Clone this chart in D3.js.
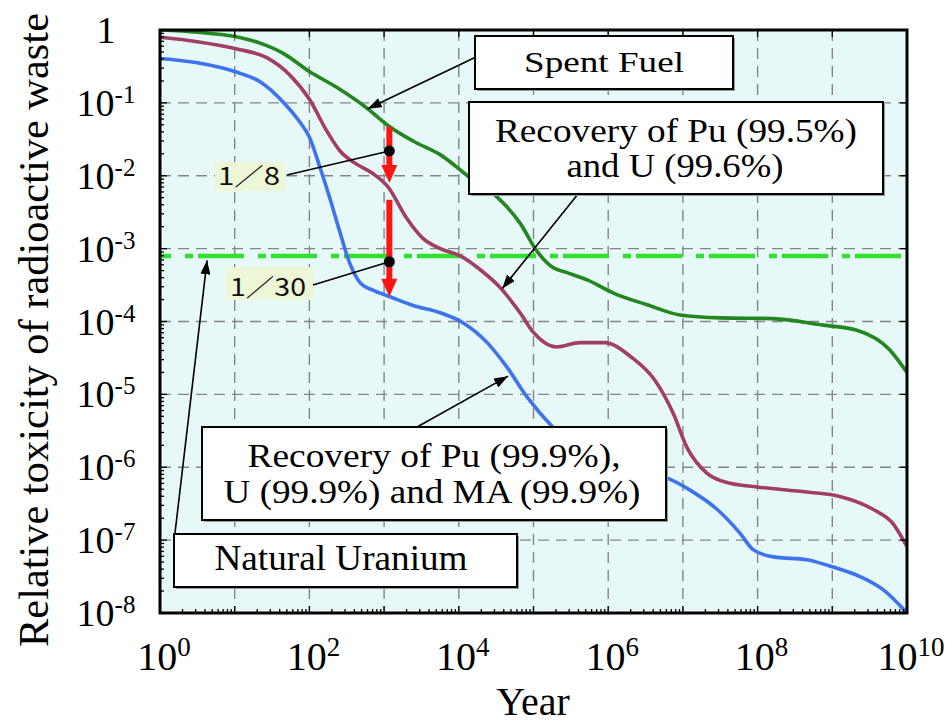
<!DOCTYPE html>
<html><head><meta charset="utf-8">
<script src="https://cdn.jsdelivr.net/npm/d3@7"></script>
<style>body{margin:0;background:#fff} svg{display:block}
.sf{font-family:"Liberation Serif","Times New Roman",Times,serif}
.gt{font-family:"Noto Sans CJK JP","Noto Sans",sans-serif}</style>
</head><body><svg id="c" width="952" height="724"></svg>
<script>
// ---- data (exponents: [log10(year), log10(relative toxicity)]) ----
const xTickExps = [0, 2, 4, 6, 8, 10];
const yTickExps = [0, -1, -2, -3, -4, -5, -6, -7, -8];
const spentFuel = [[0,0],[0.5,-0.03],[1,-0.09],[1.34,-0.18],[1.65,-0.32],[2,-0.57],[2.37,-0.79],[2.78,-1.08],[3.05,-1.31],[3.4,-1.53],[3.75,-1.71],[4.19,-2.06],[4.51,-2.29],[4.82,-2.65],[5.05,-3.04],[5.26,-3.26],[5.45,-3.33],[5.72,-3.43],[6.07,-3.61],[6.52,-3.77],[6.96,-3.91],[7.5,-3.95],[8.2,-3.96],[8.88,-4.05],[9.33,-4.12],[9.77,-4.39],[10,-4.7]];
const recoveryPuU = [[0,-0.1],[0.5,-0.16],[1.03,-0.26],[1.43,-0.38],[1.74,-0.62],[2,-0.95],[2.23,-1.38],[2.41,-1.66],[2.6,-1.82],[2.85,-1.97],[3.05,-2.15],[3.3,-2.58],[3.52,-2.86],[3.75,-3.0],[4.02,-3.1],[4.3,-3.3],[4.55,-3.53],[4.82,-3.88],[5.0,-4.15],[5.31,-4.35],[5.62,-4.29],[5.95,-4.29],[6.31,-4.49],[6.62,-4.8],[6.87,-5.26],[7.05,-5.72],[7.32,-6.08],[7.59,-6.21],[7.99,-6.27],[8.66,-6.34],[9.1,-6.4],[9.55,-6.58],[9.81,-6.77],[10,-7.09]];
const recoveryPuUMA = [[0,-0.39],[0.5,-0.45],[1.03,-0.58],[1.34,-0.71],[1.65,-0.99],[1.87,-1.26],[2,-1.47],[2.14,-1.88],[2.28,-2.33],[2.41,-2.78],[2.54,-3.2],[2.68,-3.47],[2.85,-3.57],[3.08,-3.66],[3.39,-3.78],[3.75,-3.88],[4.06,-4.02],[4.38,-4.29],[4.64,-4.62],[4.91,-5.03],[5.26,-5.45],[5.6,-5.75],[6,-5.95],[6.4,-6.05],[6.79,-6.15],[7.09,-6.31],[7.46,-6.58],[7.76,-6.9],[7.94,-7.13],[8.21,-7.23],[8.66,-7.27],[9.01,-7.37],[9.37,-7.5],[9.68,-7.68],[10,-8]];
const naturalUraniumExp = -3.1;
const reductionYearExp = 3.07;
const reductionSteps = [[-1.33,-2.1],[-2.33,-3.66]];
const ratioDotExps = [-1.66,-3.18];
const ratioLabels = ["1／8","1／30"];
const boxLabels = {
  spent: ["Spent Fuel"],
  puu: ["Recovery of Pu (99.5%)","and U (99.6%)"],
  puuma: ["Recovery of Pu (99.9%),","U (99.9%) and MA (99.9%)"],
  nat: ["Natural Uranium"]
};

// ---- scales ----
const L = 160, R = 907, T = 30, B = 613;
const x = d3.scaleLog().domain([1, 1e10]).range([L, R]);
const y = d3.scaleLog().domain([1e-8, 1]).range([B, T]);
const X = e => x(Math.pow(10, e)), Y = e => y(Math.pow(10, e));

const svg = d3.select("#c");
const defs = svg.append("defs");
defs.append("clipPath").attr("id","clip").append("rect").attr("x",L).attr("y",T).attr("width",R-L).attr("height",B-T);
defs.append("marker").attr("id","ah").attr("viewBox","0 0 14 10").attr("refX",14).attr("refY",5)
  .attr("markerWidth",14).attr("markerHeight",10).attr("markerUnits","userSpaceOnUse").attr("orient","auto")
  .append("path").attr("d","M0,0L14,5L0,10z").attr("fill","#000");

// background
svg.append("rect").attr("x",L).attr("y",T).attr("width",R-L).attr("height",B-T).attr("fill","#e7f8f9");

// grid
const g = svg.append("g");
for (let e = 1; e <= 9; e++) g.append("line").attr("x1",X(e)).attr("x2",X(e)).attr("y1",T).attr("y2",B)
  .attr("stroke","#858585").attr("stroke-width",1.4).attr("stroke-dasharray","11,7");
for (let e = -1; e >= -7; e--) g.append("line").attr("y1",Y(e)).attr("y2",Y(e)).attr("x1",L).attr("x2",R)
  .attr("stroke","#858585").attr("stroke-width",1.4).attr("stroke-dasharray","11,7");

// natural uranium level
svg.append("line").attr("x1",L).attr("x2",R).attr("y1",Y(naturalUraniumExp)).attr("y2",Y(naturalUraniumExp))
  .attr("stroke","#2fe02f").attr("stroke-width",4.5).attr("stroke-dasharray","8,5,46,14").attr("stroke-dashoffset",48);

// curves
const line = d3.line().x(d => X(d[0])).y(d => Y(d[1])).curve(d3.curveMonotoneX);
const cg = svg.append("g").attr("clip-path","url(#clip)");
[[spentFuel,"#23861f"],[recoveryPuU,"#a23d68"],[recoveryPuUMA,"#3d73ec"]].forEach(([d,c]) =>
  cg.append("path").datum(d).attr("d",line).attr("fill","none").attr("stroke",c).attr("stroke-width",3.6).attr("stroke-linejoin","round"));

// red reduction arrows
const rx = X(reductionYearExp);
reductionSteps.forEach(([a,b]) => {
  const y0 = Y(a), y1 = Y(b);
  svg.append("line").attr("x1",rx).attr("x2",rx).attr("y1",y0).attr("y2",y1-14).attr("stroke","#ff1414").attr("stroke-width",6);
  svg.append("path").attr("d",`M${rx-8},${y1-18}L${rx+8},${y1-18}L${rx},${y1}z`).attr("fill","#ff1414");
});

// ratio labels
const ratioLab = [
  {bx:215,by:162,bw:70,bh:29,tx:249,ty:185,tl:62,lx:287,ly:175},
  {bx:226,by:267,bw:87,bh:33,tx:268,ty:296,tl:76,lx:313,ly:285}
];
ratioLab.forEach((r,i) => {
  svg.append("rect").attr("x",r.bx).attr("y",r.by).attr("width",r.bw).attr("height",r.bh).attr("fill","#eef6d8");
  svg.append("text").attr("class","gt").attr("x",r.tx).attr("y",r.ty).attr("text-anchor","middle")
    .attr("font-size",24).attr("fill","#111")
    .attr("textLength",r.tl).attr("lengthAdjust","spacingAndGlyphs").text(ratioLabels[i]);
  svg.append("line").attr("x1",r.lx).attr("y1",r.ly).attr("x2",rx).attr("y2",Y(ratioDotExps[i])).attr("stroke","#000").attr("stroke-width",1.6);
  svg.append("circle").attr("cx",rx).attr("cy",Y(ratioDotExps[i])).attr("r",5.5).attr("fill","#000");
});

// annotation arrows
const arrows = [
  [476,57,2.78,-1.08],
  [578,194,4.58,-3.55],
  [417,427,4.66,-4.75],
  [175,533,0.63,-3.16]
];
arrows.forEach(a => svg.append("line").attr("x1",a[0]).attr("y1",a[1]).attr("x2",X(a[2])).attr("y2",Y(a[3]))
  .attr("stroke","#000").attr("stroke-width",1.6).attr("marker-end","url(#ah)"));

// boxes
const boxes = [
  {k:"spent",x:475,y:36,w:258,h:53,fs:30,lines:[{x:604,y:72,tl:160}]},
  {k:"puu",x:469,y:102,w:414,h:92,fs:34,lines:[{x:676,y:142,tl:362},{x:675,y:177,tl:217}]},
  {k:"puuma",x:202,y:427,w:464,h:93,fs:34,lines:[{x:434,y:467,tl:373},{x:432,y:503,tl:417}]},
  {k:"nat",x:174,y:534,w:343,h:53,fs:36,lines:[{x:341,y:570,tl:253}]}
];
boxes.forEach(b => {
  svg.append("rect").attr("x",b.x+2).attr("y",b.y+2).attr("width",b.w).attr("height",b.h).attr("fill","#9a9a9a");
  svg.append("rect").attr("x",b.x).attr("y",b.y).attr("width",b.w).attr("height",b.h).attr("fill","#fff").attr("stroke","#000").attr("stroke-width",2);
  b.lines.forEach((l,i) => svg.append("text").attr("class","sf").attr("x",l.x).attr("y",l.y).attr("text-anchor","middle")
    .attr("font-size",b.fs).attr("fill","#000")
    .attr("textLength",l.tl).attr("lengthAdjust","spacingAndGlyphs").text(boxLabels[b.k][i]));
});

// ticks
const tk = svg.append("g").attr("stroke","#000").attr("stroke-width",1.3);
for (let e = 0; e <= 10; e++) {
  tk.append("line").attr("x1",X(e)).attr("x2",X(e)).attr("y1",B).attr("y2",B-7);
  tk.append("line").attr("x1",X(e)).attr("x2",X(e)).attr("y1",T).attr("y2",T+7);
  if (e < 10) for (let m = 2; m <= 9; m++) {
    const xv = x(m*Math.pow(10,e));
    tk.append("line").attr("x1",xv).attr("x2",xv).attr("y1",B).attr("y2",B-4);
  }
}
for (let e = -8; e <= 0; e++) {
  tk.append("line").attr("y1",Y(e)).attr("y2",Y(e)).attr("x1",L).attr("x2",L+7);
  tk.append("line").attr("y1",Y(e)).attr("y2",Y(e)).attr("x1",R).attr("x2",R-7);
  if (e < 0) for (let m = 2; m <= 9; m++) {
    const yv = y(m*Math.pow(10,e));
    tk.append("line").attr("y1",yv).attr("y2",yv).attr("x1",L).attr("x2",L+4);
  }
}

// frame
svg.append("rect").attr("x",L).attr("y",T).attr("width",R-L).attr("height",B-T).attr("fill","none").attr("stroke","#000").attr("stroke-width",3);

// tick labels
xTickExps.forEach(e => {
  const t = svg.append("text").attr("class","sf").attr("x",X(e)+4).attr("y",670).attr("text-anchor","middle")
    .attr("font-size",40).attr("fill","#000");
  t.append("tspan").text("10");
  t.append("tspan").attr("dy",-14).attr("font-size",27).text(e);
});
yTickExps.forEach(e => {
  const t = svg.append("text").attr("class","sf").attr("x",106).attr("y",Y(e)+13).attr("text-anchor","middle")
    .attr("font-size",38).attr("fill","#000");
  if (e === 0) { t.text("1"); return; }
  t.append("tspan").text("10");
  t.append("tspan").attr("dy",-13).attr("font-size",25).text(e);
});

// axis titles
svg.append("text").attr("class","sf").attr("transform","translate(48,330) rotate(-90)").attr("text-anchor","middle")
  .attr("font-size",42).attr("fill","#000")
  .attr("textLength",634).attr("lengthAdjust","spacingAndGlyphs").text("Relative toxicity of radioactive waste");
svg.append("text").attr("class","sf").attr("x",533).attr("y",715).attr("text-anchor","middle")
  .attr("font-size",40).attr("fill","#000").text("Year");
</script></body></html>
